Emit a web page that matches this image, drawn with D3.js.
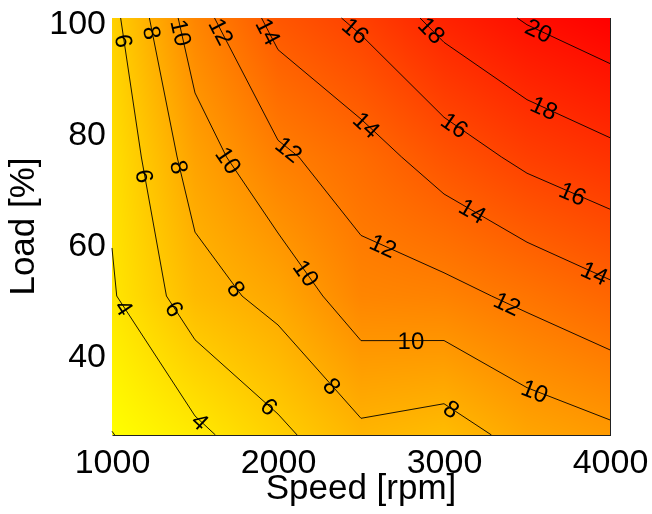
<!DOCTYPE html>
<html>
<head>
<meta charset="utf-8">
<script src="https://cdn.jsdelivr.net/npm/d3@7"></script>
<style>
  body { margin: 0; background: #fff; }
  #chart { position: relative; width: 652px; height: 514px; }
  #chart canvas, #chart svg { position: absolute; left: 0; top: 0; }
</style>
</head>
<body>
<div id="chart"></div>
<script>
// measurement grid
const speeds = [1000, 1500, 2000, 2500, 3000, 3500, 4000];
const loads = [25, 50, 75, 100];
// one row per load, one value per speed
const load25 = [1.95, 3.50, 5.53, 7.57, 7.01, 8.74, 9.57];
const load50 = [3.81, 7.15, 8.65, 11.15, 11.41, 12.44, 13.54];
const load75 = [4.36, 9.00, 11.63, 13.10, 14.94, 16.47, 17.48];
const load100 = [5.40, 11.17, 14.70, 16.40, 18.65, 20.18, 21.23];
const levels = [2, 4, 6, 8, 10, 12, 14, 16, 18, 20];
const xTicks = [1000, 2000, 3000, 4000];
const yTicks = [40, 60, 80, 100];

const width = 652, height = 514;
const margin = { top: 18, right: 42, bottom: 79, left: 112 };
const font = "'Liberation Sans', Arial, sans-serif";

const grid = [load25, load50, load75, load100];
const values = grid.flat();

const x = d3.scaleLinear().domain([1000, 4000]).range([margin.left, width - margin.right]);
const y = d3.scaleLinear().domain([25, 100]).range([height - margin.bottom, margin.top]);

// grid index -> data units (for d3.contours output)
const gx = d3.scaleLinear().domain(d3.range(speeds.length)).range(speeds).clamp(true);
const gy = d3.scaleLinear().domain(d3.range(loads.length)).range(loads).clamp(true);

const color = d3.scaleLinear()
  .domain([d3.min(values), d3.max(values)])
  .range(["#ffff00", "#ff0000"])
  .clamp(true);

function valueAt(s, l) {
  const i = Math.max(0, Math.min(speeds.length - 2, d3.bisectRight(speeds, s) - 1));
  const j = Math.max(0, Math.min(loads.length - 2, d3.bisectRight(loads, l) - 1));
  const tx = (s - speeds[i]) / (speeds[i + 1] - speeds[i]);
  const ty = (l - loads[j]) / (loads[j + 1] - loads[j]);
  const r0 = grid[j], r1 = grid[j + 1];
  return (1 - ty) * ((1 - tx) * r0[i] + tx * r0[i + 1]) + ty * ((1 - tx) * r1[i] + tx * r1[i + 1]);
}

// smooth shaded map on a canvas
const canvas = d3.select("#chart").append("canvas")
  .attr("width", width).attr("height", height).node();
const ctx = canvas.getContext("2d");
const x0 = Math.round(x.range()[0]), x1 = Math.round(x.range()[1]);
const y0 = Math.round(y.range()[1]), y1 = Math.round(y.range()[0]);
const img = ctx.createImageData(x1 - x0, y1 - y0);
for (let py = 0; py < y1 - y0; py++) {
  for (let px = 0; px < x1 - x0; px++) {
    const c = d3.rgb(color(valueAt(x.invert(x0 + px + 0.5), y.invert(y0 + py + 0.5))));
    const k = (py * (x1 - x0) + px) * 4;
    img.data[k] = c.r; img.data[k + 1] = c.g; img.data[k + 2] = c.b; img.data[k + 3] = 255;
  }
}
ctx.putImageData(img, x0, y0);

const svg = d3.select("#chart").append("svg")
  .attr("width", width)
  .attr("height", height);

// contour lines
const contours = d3.contours()
  .size([speeds.length, loads.length])
  .thresholds(levels)(values);

const onEdge = p => p[0] <= 0 || p[0] >= speeds.length || p[1] <= 0 || p[1] >= loads.length;
const toScreen = p => [x(gx(p[0] - 0.5)), y(gy(p[1] - 0.5))];

function runsOf(ring) {
  const pts = ring.slice(0, -1);
  const k = pts.findIndex(onEdge);
  if (k < 0) return [ring];
  const rot = pts.slice(k).concat(pts.slice(0, k));
  const runs = [];
  let cur = [];
  rot.forEach(p => {
    if (onEdge(p)) { if (cur.length > 1) runs.push(cur); cur = []; }
    else cur.push(p);
  });
  if (cur.length > 1) runs.push(cur);
  return runs;
}

const lines = [];
contours.forEach(c => {
  c.coordinates.forEach(poly => poly.forEach(ring => {
    runsOf(ring).forEach(run => {
      let pts = run.map(toScreen);
      if (pts[0][1] > pts[pts.length - 1][1]) pts = pts.reverse();
      lines.push({ value: c.value, pts });
    });
  }));
});

svg.append("g")
  .selectAll("path")
  .data(lines)
  .enter()
  .append("path")
  .attr("d", d => d3.line()(d.pts))
  .attr("fill", "none")
  .attr("stroke", "#000")
  .attr("stroke-width", 0.9);

// inline labels along each line
const spacing = 137, firstOffset = 15, edgeGap = 12;
const labels = [];
lines.forEach(ln => {
  const segs = [];
  let total = 0;
  for (let k = 1; k < ln.pts.length; k++) {
    const a = ln.pts[k - 1], b = ln.pts[k];
    const d = Math.hypot(b[0] - a[0], b[1] - a[1]);
    segs.push({ a, b, s: total, d });
    total += d;
  }
  const at = s => {
    const sg = segs.find(q => s <= q.s + q.d) || segs[segs.length - 1];
    const t = sg.d ? (s - sg.s) / sg.d : 0;
    let ang = Math.atan2(sg.b[1] - sg.a[1], sg.b[0] - sg.a[0]) * 180 / Math.PI;
    if (ang > 90) ang -= 180;
    if (ang <= -90) ang += 180;
    return [sg.a[0] + t * (sg.b[0] - sg.a[0]), sg.a[1] + t * (sg.b[1] - sg.a[1]), ang];
  };
  const inside = p => p[0] >= x0 + edgeGap && p[0] <= x1 - edgeGap && p[1] >= y0 + edgeGap && p[1] <= y1 - edgeGap;
  let s = firstOffset;
  while (s <= total - 10) {
    const p = at(s);
    if (inside(p)) { labels.push({ value: ln.value, p }); s += spacing; }
    else s += 1;
  }
});

svg.append("g")
  .selectAll("text")
  .data(labels)
  .enter()
  .append("text")
  .attr("transform", d => `translate(${d.p[0]},${d.p[1]}) rotate(${d.p[2]})`)
  .attr("text-anchor", "middle")
  .attr("dominant-baseline", "central")
  .attr("font-family", font)
  .attr("font-size", "24px")
  .attr("fill", "#000")
  .text(d => d3.format("d")(d.value));

// axes
const xAxis = d3.axisBottom(x).tickValues(xTicks).tickSize(0).tickSizeOuter(0).tickPadding(14).tickFormat(d3.format("d"));
svg.append("g")
  .attr("transform", "translate(0," + y.range()[0] + ")")
  .call(xAxis)
  .attr("font-size", 34)
  .attr("font-family", font)
  .call(g => g.selectAll("text").attr("fill", "#000"))
  .call(g => g.select(".domain").attr("stroke", "#222"));

const yAxis = d3.axisLeft(y).tickValues(yTicks).tickSize(0).tickPadding(6).tickFormat(d3.format("d"));
svg.append("g")
  .attr("transform", "translate(" + x.range()[0] + ",0)")
  .call(yAxis)
  .attr("font-size", 34)
  .attr("font-family", font)
  .call(g => g.select(".domain").remove())
  .call(g => g.selectAll("text").attr("fill", "#000").attr("dy", "15px"));

svg.append("line")
  .attr("x1", x.range()[1] + 0.5).attr("x2", x.range()[1] + 0.5)
  .attr("y1", y.range()[1]).attr("y2", y.range()[0] + 1)
  .attr("stroke", "#222");

svg.append("text")
  .attr("x", (x.range()[0] + x.range()[1]) / 2)
  .attr("y", 499)
  .attr("text-anchor", "middle")
  .attr("font-family", font)
  .attr("font-size", "35px")
  .text("Speed [rpm]");

svg.append("text")
  .attr("transform", "translate(34," + ((y.range()[0] + y.range()[1]) / 2) + ") rotate(-90)")
  .attr("text-anchor", "middle")
  .attr("font-family", font)
  .attr("font-size", "35px")
  .text("Load [%]");
</script>
</body>
</html>
